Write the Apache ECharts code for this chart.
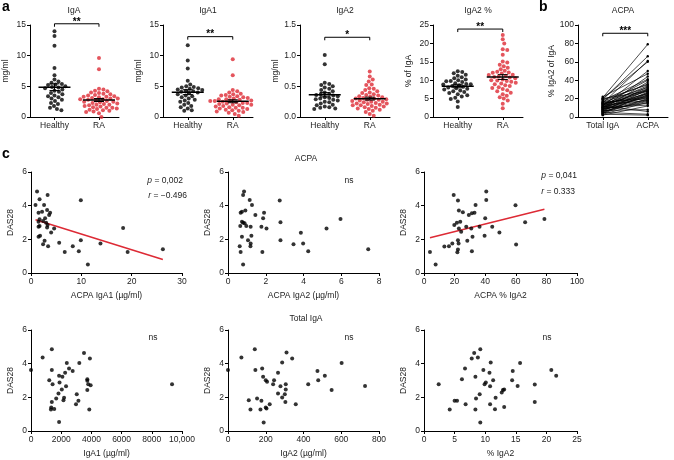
<!DOCTYPE html>
<html>
<head>
<meta charset="utf-8">
<script src="https://cdn.jsdelivr.net/npm/echarts@6/dist/echarts.min.js"></script>
<style>
html, body { margin: 0; padding: 0; background: #fff; }
#chart { width: 674px; height: 460px; }
</style>
</head>
<body>
<div id="chart"></div>
<script>
// ---- panel a: serum levels (mg/ml, % of IgA) ----
const catsA = ['Healthy', 'RA']
const igaHealthy = [14.0, 13.2, 11.6, 8.0, 6.8, 6.1, 5.8, 5.6, 5.4, 5.3, 5.2, 5.0, 4.9, 4.8, 4.7, 4.5, 4.3, 4.1, 3.9, 3.7, 3.5, 3.4, 3.2, 3.0, 2.8, 2.6, 2.3, 2.1, 1.8, 1.5, 1.3, 1.1]
const igaRA = [9.6, 7.8, 4.6, 4.5, 4.3, 4.2, 4.0, 3.9, 3.8, 3.7, 3.6, 3.5, 3.4, 3.3, 3.2, 3.1, 3.0, 3.0, 2.9, 2.8, 2.8, 2.7, 2.6, 2.5, 2.5, 2.4, 2.3, 2.2, 2.1, 2.0, 2.0, 1.9, 1.8, 1.7, 1.6, 1.5, 1.5, 1.4, 1.3, 1.2, 1.1, 1.0, 0.9, 0.8, 0.6, 0.0, 3.3, 2.9]
const iga1Healthy = [11.7, 9.2, 7.9, 5.9, 5.3, 5.0, 4.9, 4.8, 4.7, 4.6, 4.5, 4.4, 4.3, 4.2, 4.1, 4.0, 3.9, 3.7, 3.5, 3.4, 3.2, 3.0, 2.8, 2.7, 2.5, 2.3, 2.0, 1.8, 1.6, 1.4, 1.1, 1.0]
const iga1RA = [9.4, 6.8, 4.4, 4.2, 4.0, 3.8, 3.7, 3.6, 3.4, 3.3, 3.2, 3.1, 3.0, 2.9, 2.8, 2.7, 2.6, 2.6, 2.5, 2.4, 2.3, 2.3, 2.2, 2.1, 2.0, 2.0, 1.9, 1.8, 1.7, 1.6, 1.5, 1.5, 1.4, 1.3, 1.2, 1.1, 1.0, 0.9, 0.8, 0.7, 0.5, 0.2, 2.6, 2.9, 3.5]
const iga2Healthy = [1.01, 0.86, 0.56, 0.54, 0.52, 0.50, 0.48, 0.46, 0.44, 0.42, 0.40, 0.38, 0.37, 0.36, 0.34, 0.32, 0.30, 0.29, 0.27, 0.25, 0.24, 0.22, 0.20, 0.19, 0.17, 0.16, 0.15, 0.14, 0.13, 0.31, 0.28, 0.35]
const iga2RA = [0.74, 0.66, 0.61, 0.58, 0.53, 0.52, 0.47, 0.46, 0.44, 0.42, 0.40, 0.39, 0.37, 0.36, 0.35, 0.34, 0.33, 0.32, 0.31, 0.30, 0.30, 0.29, 0.28, 0.27, 0.26, 0.25, 0.25, 0.24, 0.23, 0.22, 0.21, 0.20, 0.19, 0.18, 0.17, 0.16, 0.15, 0.14, 0.13, 0.12, 0.10, 0.08, 0.05, 0.02, 0.28, 0.22, 0.19]
const pctHealthy = [12.4, 12.2, 11.9, 11.5, 11.2, 10.8, 10.5, 10.2, 10.0, 9.7, 9.5, 9.2, 9.0, 8.8, 8.6, 8.4, 8.2, 8.0, 7.8, 7.5, 7.2, 7.0, 6.8, 6.5, 6.2, 5.9, 5.6, 5.2, 4.9, 4.2, 2.7, 9.8, 8.9, 7.7]
const pctRA = [22.3, 21.1, 20.0, 18.4, 18.2, 16.9, 15.1, 14.8, 14.2, 13.8, 13.4, 13.0, 12.6, 12.3, 12.0, 11.8, 11.5, 11.2, 11.0, 10.7, 10.5, 10.2, 10.0, 9.8, 9.6, 9.3, 9.1, 8.9, 8.6, 8.4, 8.1, 7.9, 7.6, 7.3, 7.0, 6.6, 6.2, 5.8, 5.4, 5.0, 4.5, 3.6, 2.4, 11.4, 10.9, 9.9, 12.1]

// ---- panel b: paired % IgA2 (total IgA vs ACPA) ----
const catsB = ['Total IgA', 'ACPA']
const bTotal = [21, 19, 15, 20, 12, 22, 10, 18, 14, 9, 17, 13, 8, 16, 11, 6, 12, 20, 7, 10, 14, 5, 9, 15, 11, 4, 8, 13, 6, 3, 10, 7, 12, 5, 3, 16, 9, 11, 4, 2, 19, 13, 8, 6, 14]
const bAcpa = [79, 66, 61, 60, 50, 47, 44, 41, 40, 38, 36, 34, 33, 32, 31, 30, 29, 28, 27, 26, 25, 24, 23, 22, 21, 20, 19, 18, 17, 16, 13, 8, 6, 3, 2, 20, 15, 24, 26, 12, 35, 28, 22, 18, 30]

// ---- panel c: DAS28 correlations ----
const acpaIga1 = [1.2, 0.9, 1.7, 3.3, 1.5, 2.2, 2.6, 3.2, 3.8, 3.6, 2.8, 1.7, 1.5, 2.4, 3.0, 3.3, 1.7, 1.5, 3.2, 4.6, 4.0, 1.8, 1.5, 2.7, 5.6, 2.4, 3.4, 6.7, 8.3, 9.5, 9.9, 9.9, 11.3, 13.8, 18.3, 19.2, 26.2]
const dasAcpaIga1 = [4.84, 4.04, 4.38, 4.64, 3.58, 3.64, 4.04, 3.75, 3.58, 3.45, 3.25, 3.19, 3.05, 3.09, 2.99, 2.85, 2.79, 2.75, 2.71, 2.65, 2.41, 2.21, 2.15, 1.91, 1.79, 1.71, 1.59, 1.25, 1.59, 1.29, 1.95, 4.32, 0.50, 1.75, 2.67, 1.25, 1.41]
const acpaIga2 = [0.80, 0.85, 1.15, 1.27, 2.74, 0.92, 0.67, 0.74, 1.45, 1.86, 1.91, 0.74, 0.88, 0.80, 0.97, 0.65, 1.20, 1.77, 2.04, 2.78, 0.74, 1.24, 1.06, 1.20, 1.19, 0.62, 0.67, 1.82, 2.78, 3.47, 3.98, 3.86, 4.25, 5.22, 5.96, 7.43, 0.80]
const dasAcpaIga2 = [4.64, 4.84, 4.34, 4.04, 4.30, 3.71, 3.58, 3.64, 3.45, 3.25, 3.58, 3.05, 2.95, 2.99, 2.79, 2.79, 2.75, 2.75, 2.65, 3.01, 2.15, 2.21, 1.95, 1.75, 1.59, 1.59, 1.25, 1.25, 1.95, 1.71, 1.75, 2.39, 1.29, 2.65, 3.21, 1.41, 0.50]
const acpaPct = [19.4, 22.2, 40.7, 40.7, 33.7, 59.8, 22.8, 25.4, 29.3, 31.3, 33.0, 40.0, 21.5, 23.7, 19.8, 27.6, 22.8, 30.9, 36.3, 44.6, 24.3, 66.1, 78.7, 49.3, 31.7, 39.6, 28.3, 22.2, 22.6, 18.5, 16.3, 13.3, 22.2, 21.8, 31.3, 60.2, 3.9, 7.6]
const dasAcpaPct = [4.64, 4.30, 4.84, 4.34, 4.04, 4.02, 3.71, 3.61, 3.45, 3.55, 3.58, 3.25, 2.99, 3.05, 2.85, 2.75, 2.65, 2.65, 2.75, 2.75, 2.45, 3.01, 3.21, 2.41, 2.15, 2.21, 1.91, 1.95, 1.75, 1.75, 1.59, 1.57, 1.39, 1.24, 1.29, 1.69, 1.25, 0.50]
const totIga1 = [0, 770, 1380, 1380, 1210, 1430, 1380, 1340, 1320, 1540, 1670, 1860, 1860, 2080, 1890, 1820, 2040, 2150, 2190, 2260, 2320, 2370, 2520, 2760, 3030, 2980, 3140, 3200, 3510, 3730, 3730, 3730, 3790, 3950, 3860, 3900, 9340]
const dasTotIga1 = [3.62, 4.37, 4.85, 3.62, 3.02, 2.78, 1.73, 1.39, 1.27, 1.31, 1.93, 0.54, 3.28, 3.22, 2.88, 2.23, 2.47, 1.83, 1.97, 3.46, 2.66, 4.04, 3.72, 3.56, 2.19, 1.59, 1.79, 4.04, 4.64, 3.08, 2.98, 2.43, 2.78, 2.72, 1.27, 4.31, 2.78]
const totIga2 = [0, 71, 142, 310, 340, 287, 145, 181, 186, 200, 207, 244, 265, 239, 278, 306, 306, 265, 301, 287, 304, 359, 110, 154, 177, 119, 172, 200, 204, 221, 189, 425, 474, 478, 513, 549, 602, 726]
const dasTotIga2 = [3.62, 4.37, 4.85, 4.66, 4.31, 4.07, 3.62, 3.72, 3.22, 3.02, 2.92, 3.02, 3.46, 2.78, 2.66, 2.78, 2.47, 2.23, 2.19, 1.99, 1.73, 1.59, 1.83, 1.93, 1.79, 1.27, 1.27, 1.39, 1.33, 1.59, 0.50, 2.78, 3.56, 3.02, 3.28, 2.43, 4.04, 2.68]
const totPct = [2.4, 4.2, 5.0, 5.4, 6.8, 6.2, 6.7, 7.8, 8.2, 8.8, 9.2, 8.4, 8.5, 8.4, 9.1, 9.2, 9.7, 9.9, 10.1, 10.7, 10.8, 10.9, 11.3, 10.8, 11.7, 11.6, 12.7, 12.9, 13.1, 13.1, 14.4, 14.5, 15.3, 15.7, 18.1, 18.1, 20.8, 21.6]
const dasTotPct = [2.78, 1.27, 1.79, 1.79, 1.59, 3.08, 3.72, 4.31, 4.64, 4.37, 4.85, 3.22, 1.93, 1.27, 2.19, 0.50, 3.62, 2.78, 2.88, 3.46, 2.66, 4.07, 3.02, 1.59, 1.97, 1.29, 2.29, 2.43, 2.47, 1.43, 3.02, 3.56, 2.68, 4.04, 2.76, 1.73, 3.62, 3.28]

const FONT = "'Liberation Sans', Arial, sans-serif"
const TXT = '#222'
const RED = '#dd2a35'

// deterministic beeswarm: place each dot nearest to the centre without overlap
const swarm = (values, center, pxX, pxY, d) => {
  const placed = []
  const order = values.map((v, i) => i).sort((a, b) => values[b] - values[a])
  const offs = [0]
  for (let s = 0.5; s < 60; s += 0.5) offs.push(s, -s)
  return order.map(i => {
    const y = values[i] * pxY
    let x = 0
    for (const o of offs) {
      if (placed.every(p => (p[0] - o) ** 2 + (p[1] - y) ** 2 >= d * d)) { x = o; break }
    }
    placed.push([x, y])
    return [center + x / pxX, values[i]]
  })
}

const meanSem = arr => {
  const n = arr.length
  const m = arr.reduce((a, b) => a + b, 0) / n
  const sd = Math.sqrt(arr.reduce((a, b) => a + (b - m) ** 2, 0) / (n - 1))
  return [m, sd / Math.sqrt(n)]
}

const fitLine = (xs, ys) => {
  const n = xs.length
  const mx = xs.reduce((a, b) => a + b, 0) / n
  const my = ys.reduce((a, b) => a + b, 0) / n
  let sxy = 0, sxx = 0
  xs.forEach((x, i) => { sxy += (x - mx) * (ys[i] - my); sxx += (x - mx) ** 2 })
  const b = sxy / sxx, a = my - b * mx
  const x0 = Math.min(...xs), x1 = Math.max(...xs)
  return [[x0, a + b * x0], [x1, a + b * x1]]
}

const axisBase = () => ({
  type: 'value',
  axisLine: { show: true, onZero: false, lineStyle: { color: '#000', width: 1 } },
  axisTick: { show: true, length: 3, lineStyle: { color: '#000', width: 1 } },
  axisLabel: { color: TXT, fontSize: 8.5, fontFamily: FONT, margin: 4 },
  splitLine: { show: false },
  nameTextStyle: { color: TXT, fontSize: 8.5, fontFamily: FONT }
})

const grids = []
const xAxes = []
const yAxes = []
const series = []
const graphics = []

const text = (x, y, str, opt = {}) => graphics.push({
  type: 'text', x, y, z: 10,
  style: Object.assign({
    text: str, fill: TXT, font: `8.5px ${FONT}`,
    align: 'center', textAlign: 'center', verticalAlign: 'middle', textVerticalAlign: 'middle'
  }, opt)
})

// ---- build panels a and b ----
const AW = 90, AH = 92, ATOP = 25
const dotPanels = [
  { left: 29, title: 'IgA', name: 'mg/ml', max: 15, step: 5, h: igaHealthy, r: igaRA, br: 15.2, stars: '**' },
  { left: 163, title: 'IgA1', name: 'mg/ml', max: 15, step: 5, h: iga1Healthy, r: iga1RA, br: 13.1, stars: '**' },
  { left: 300, title: 'IgA2', name: 'mg/ml', max: 1.5, step: 0.5, h: iga2Healthy, r: iga2RA, br: 1.3, stars: '*', dec: 1 },
  { left: 433, title: 'IgA2 %', name: '% of IgA', max: 25, step: 5, h: pctHealthy, r: pctRA, br: 23.9, stars: '**' }
]

const bracketSeries = (gi, level, stars) => ({
  type: 'custom', xAxisIndex: gi, yAxisIndex: gi, z: 5, silent: true,
  data: [[1.5, level]],
  renderItem: (params, api) => {
    const p1 = api.coord([1, level]), p2 = api.coord([2, level])
    return {
      type: 'group', children: [
        { type: 'polyline', shape: { points: [[p1[0], p1[1] + 3], [p1[0], p1[1]], [p2[0], p2[1]], [p2[0], p2[1] + 3]] },
          style: { stroke: '#000', lineWidth: 1, fill: 'none' } },
        { type: 'text', style: { text: stars, x: (p1[0] + p2[0]) / 2, y: p1[1] + 3, align: 'center', verticalAlign: 'bottom',
          textAlign: 'center', textVerticalAlign: 'bottom', font: `bold 10px ${FONT}`, fill: '#000' } }
      ]
    }
  }
})

const xCatAxis = (gi, cats) => {
  const ax = axisBase()
  ax.gridIndex = gi
  ax.min = 0.45
  ax.max = 2.45
  ax.axisTick.customValues = [1, 2]
  ax.axisLabel.customValues = [1, 2]
  ax.axisLabel.formatter = v => cats[Math.round(v) - 1] || ''
  return ax
}

dotPanels.forEach((p, gi) => {
  grids.push({ left: p.left, top: ATOP, width: AW, height: AH })
  xAxes.push(xCatAxis(gi, catsA))
  const ya = axisBase()
  Object.assign(ya, { gridIndex: gi, min: 0, max: p.max, interval: p.step, name: p.name, nameLocation: 'middle', nameGap: 20 })
  if (p.dec) ya.axisLabel.formatter = v => v.toFixed(p.dec)
  yAxes.push(ya)
  const pxX = AW / 2, pxY = AH / p.max
  series.push({ type: 'scatter', xAxisIndex: gi, yAxisIndex: gi, symbolSize: 4, z: 3,
    itemStyle: { color: '#000' }, data: swarm(p.h, 1, pxX, pxY, 4.2) })
  series.push({ type: 'scatter', xAxisIndex: gi, yAxisIndex: gi, symbolSize: 4, z: 3,
    itemStyle: { color: RED }, data: swarm(p.r, 2, pxX, pxY, 4.2) })
  series.push({
    type: 'custom', xAxisIndex: gi, yAxisIndex: gi, z: 6, silent: true,
    data: [[1, ...meanSem(p.h)], [2, ...meanSem(p.r)]],
    renderItem: (params, api) => {
      const c = api.value(0), m = api.value(1), s = api.value(2)
      const pm = api.coord([c, m]), pl = api.coord([c, m - s]), ph = api.coord([c, m + s])
      const st = { stroke: '#000', lineWidth: 1 }
      return {
        type: 'group', children: [
          { type: 'line', shape: { x1: pm[0] - 16, y1: pm[1], x2: pm[0] + 16, y2: pm[1] }, style: { stroke: '#000', lineWidth: 1.5 } },
          { type: 'line', shape: { x1: pm[0], y1: pl[1], x2: pm[0], y2: ph[1] }, style: st },
          { type: 'line', shape: { x1: pm[0] - 5, y1: pl[1], x2: pm[0] + 5, y2: pl[1] }, style: st },
          { type: 'line', shape: { x1: pm[0] - 5, y1: ph[1], x2: pm[0] + 5, y2: ph[1] }, style: st }
        ]
      }
    }
  })
  series.push(bracketSeries(gi, p.br, p.stars))
  text(p.left + AW / 2, 11, p.title)
})

// panel b
const gb = 4
grids.push({ left: 578, top: ATOP, width: AW, height: AH })
xAxes.push(xCatAxis(gb, catsB))
yAxes.push(Object.assign(axisBase(), { gridIndex: gb, min: 0, max: 100, interval: 20, name: '% IgA2 of IgA', nameLocation: 'middle', nameGap: 20 }))
series.push({
  type: 'custom', xAxisIndex: gb, yAxisIndex: gb, z: 3, silent: true,
  encode: { x: 0, y: [1, 2] },
  data: bTotal.map((t, i) => [1.5, t, bAcpa[i]]),
  renderItem: (params, api) => {
    const a = api.coord([1, api.value(1)]), b = api.coord([2, api.value(2)])
    return {
      type: 'group', children: [
        { type: 'line', shape: { x1: a[0], y1: a[1], x2: b[0], y2: b[1] }, style: { stroke: '#000', lineWidth: 0.7 } },
        { type: 'circle', shape: { cx: a[0], cy: a[1], r: 1.2 }, style: { fill: '#000' } },
        { type: 'circle', shape: { cx: b[0], cy: b[1], r: 1.2 }, style: { fill: '#000' } }
      ]
    }
  }
})
series.push(bracketSeries(gb, 91, '***'))
text(578 + AW / 2, 11, 'ACPA')

// ---- panel c ----
const corrPanels = [
  { left: 31, top: 172, width: 151, x: acpaIga1, y: dasAcpaIga1, max: 30, step: 10, name: 'ACPA IgA1 (µg/ml)', fit: true },
  { left: 228, top: 172, width: 151, x: acpaIga2, y: dasAcpaIga2, max: 8, step: 2, name: 'ACPA IgA2 (µg/ml)' },
  { left: 424, top: 172, width: 153, x: acpaPct, y: dasAcpaPct, max: 100, step: 20, name: 'ACPA % IgA2', fit: true },
  { left: 31, top: 330, width: 151, x: totIga1, y: dasTotIga1, max: 10000, step: 2000, name: 'IgA1 (µg/ml)', comma: true },
  { left: 228, top: 330, width: 151, x: totIga2, y: dasTotIga2, max: 800, step: 200, name: 'IgA2 (µg/ml)' },
  { left: 424, top: 330, width: 153, x: totPct, y: dasTotPct, max: 25, step: 5, name: '% IgA2' }
]

corrPanels.forEach((p, k) => {
  const gi = 5 + k
  grids.push({ left: p.left, top: p.top, width: p.width, height: 101 })
  const xa = Object.assign(axisBase(), { gridIndex: gi, min: 0, max: p.max, interval: p.step, name: p.name, nameLocation: 'middle', nameGap: 18 })
  if (p.comma) xa.axisLabel.formatter = v => v >= 10000 ? '10,000' : String(v)
  xAxes.push(xa)
  yAxes.push(Object.assign(axisBase(), { gridIndex: gi, min: 0, max: 6, interval: 2, name: 'DAS28', nameLocation: 'middle', nameGap: 16 }))
  series.push({ type: 'scatter', xAxisIndex: gi, yAxisIndex: gi, symbolSize: 4, z: 4,
    itemStyle: { color: '#000' }, data: p.x.map((v, i) => [v, p.y[i]]) })
  if (p.fit) {
    series.push({ type: 'line', xAxisIndex: gi, yAxisIndex: gi, z: 3, symbol: 'none', silent: true,
      lineStyle: { color: RED, width: 1.5 }, data: fitLine(p.x, p.y) })
  }
})

// annotations
const rich = { i: { fontStyle: 'italic', fontSize: 8.5, fontFamily: FONT, fill: TXT, color: TXT } }
const stat = (x, y, str) => text(x, y, str, { align: 'right', textAlign: 'right', rich })
stat(183, 181, '{i|p} = 0,002')
stat(187, 196, '{i|r} = −0.496')
stat(577, 176, '{i|p} = 0,041')
stat(575, 192, '{i|r} = 0.333')
text(349, 181, 'ns')
text(153, 338, 'ns')
text(349, 338, 'ns')
text(547, 338, 'ns')
text(306, 159, 'ACPA')
text(306, 319, 'Total IgA')
const letter = (x, y, s) => text(x, y, s, { font: `bold 14px ${FONT}`, fill: '#000', align: 'left', textAlign: 'left' })
letter(2, 7, 'a')
letter(539, 7, 'b')
letter(2, 154, 'c')

const chart = echarts.init(document.getElementById('chart'))
chart.setOption({
  animation: false,
  backgroundColor: '#fff',
  grid: grids,
  xAxis: xAxes,
  yAxis: yAxes,
  series,
  graphic: graphics
})
</script>
</body>
</html>
